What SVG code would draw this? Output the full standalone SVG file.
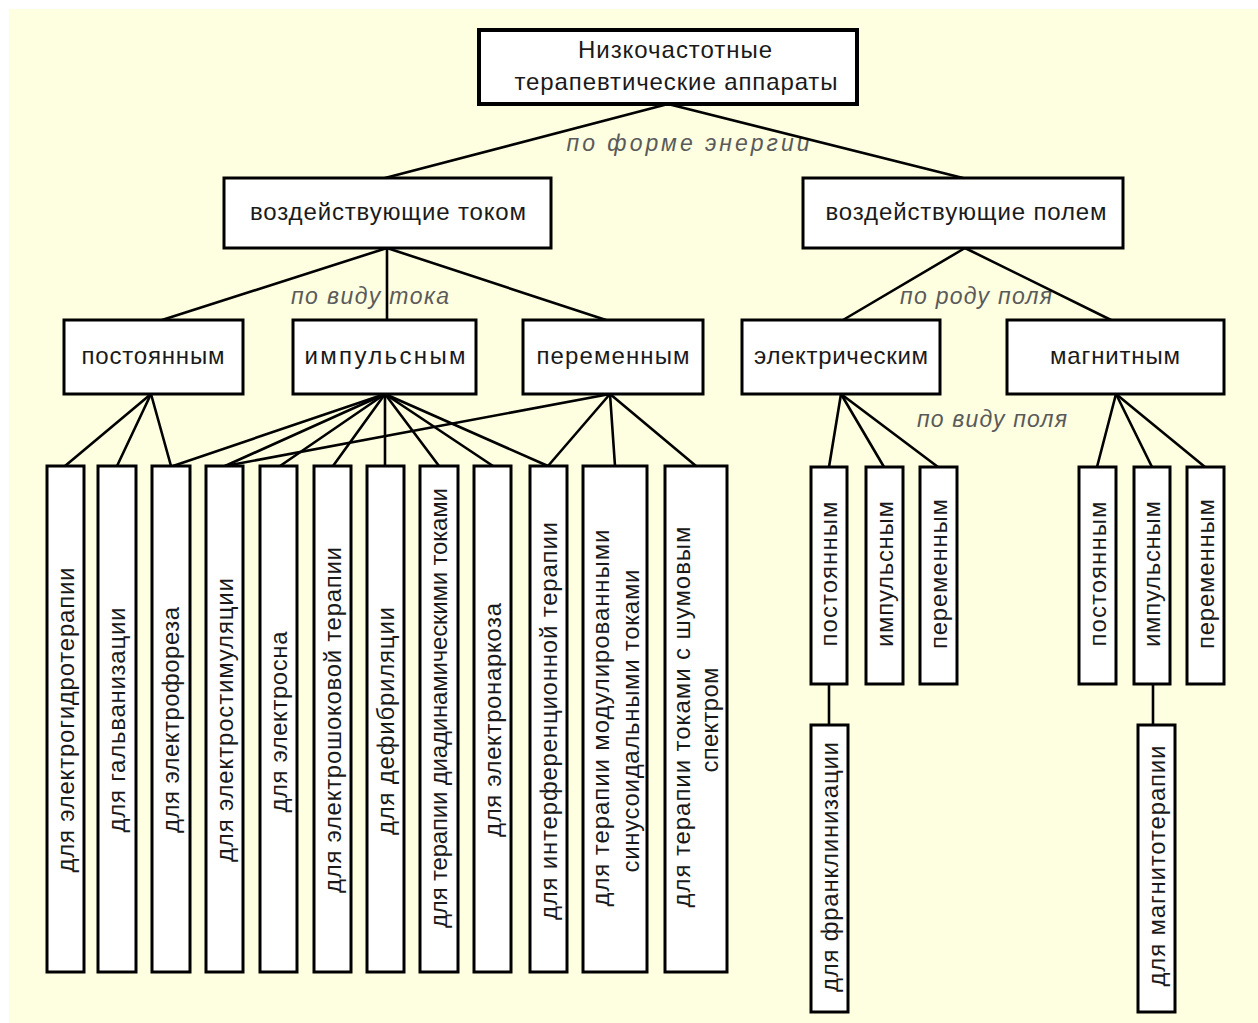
<svg xmlns="http://www.w3.org/2000/svg" width="1258" height="1023" viewBox="0 0 1258 1023">
  <style>
    .box { fill: #ffffff; stroke: #000000; stroke-width: 3; }
    .t { font-family: "Liberation Sans", Arial, sans-serif; font-size: 24px; fill: #1a1a1a; text-anchor: middle; }
    .lbl { font-family: "Liberation Sans", Arial, sans-serif; font-size: 23px; font-style: italic; fill: #5a5a5a; text-anchor: middle; }
    .edge { stroke: #000000; stroke-width: 2.6; fill: none; stroke-linecap: round; }
  </style>

  <!-- page background -->
  <rect x="0" y="0" width="1258" height="1023" fill="#ffffff"/>
  <rect x="9" y="9" width="1249" height="1014" fill="#fefee0"/>

  <!-- classification criteria -->
  <g id="criteria">
    <text class="lbl" x="688" y="151" textLength="243" lengthAdjust="spacing">по форме энергии</text>
    <text class="lbl" x="370" y="304" textLength="158" lengthAdjust="spacing">по виду тока</text>
    <text class="lbl" x="976" y="304" textLength="152" lengthAdjust="spacing">по роду поля</text>
    <text class="lbl" x="992" y="427" textLength="150" lengthAdjust="spacing">по виду поля</text>
  </g>

  <!-- connectors -->
  <g id="connectors">
    <line class="edge" x1="668" y1="104" x2="385" y2="178"/>
    <line class="edge" x1="668" y1="104" x2="963" y2="178"/>

    <line class="edge" x1="387" y1="248" x2="162" y2="320"/>
    <line class="edge" x1="387" y1="248" x2="387" y2="320"/>
    <line class="edge" x1="387" y1="248" x2="606" y2="320"/>

    <line class="edge" x1="965" y1="248" x2="843" y2="320"/>
    <line class="edge" x1="965" y1="248" x2="1111" y2="320"/>

    <!-- постоянным -->
    <line class="edge" x1="151" y1="394" x2="65" y2="466"/>
    <line class="edge" x1="151" y1="394" x2="117" y2="466"/>
    <line class="edge" x1="151" y1="394" x2="171" y2="466"/>
    <!-- импульсным -->
    <line class="edge" x1="385" y1="394" x2="173" y2="466"/>
    <line class="edge" x1="385" y1="394" x2="225" y2="466"/>
    <line class="edge" x1="385" y1="394" x2="280" y2="466"/>
    <line class="edge" x1="385" y1="394" x2="333" y2="466"/>
    <line class="edge" x1="385" y1="394" x2="385" y2="466"/>
    <line class="edge" x1="385" y1="394" x2="439" y2="466"/>
    <line class="edge" x1="385" y1="394" x2="493" y2="466"/>
    <line class="edge" x1="385" y1="394" x2="548" y2="466"/>
    <!-- переменным -->
    <line class="edge" x1="610" y1="394" x2="225" y2="466"/>
    <line class="edge" x1="610" y1="394" x2="548" y2="466"/>
    <line class="edge" x1="610" y1="394" x2="615" y2="466"/>
    <line class="edge" x1="610" y1="394" x2="696" y2="466"/>

    <!-- электрическим -->
    <line class="edge" x1="841" y1="394" x2="829" y2="467"/>
    <line class="edge" x1="841" y1="394" x2="884" y2="467"/>
    <line class="edge" x1="841" y1="394" x2="938" y2="467"/>
    <!-- магнитным -->
    <line class="edge" x1="1116" y1="394" x2="1097" y2="467"/>
    <line class="edge" x1="1116" y1="394" x2="1152" y2="467"/>
    <line class="edge" x1="1116" y1="394" x2="1205" y2="467"/>

    <line class="edge" x1="829" y1="684" x2="829" y2="725"/>
    <line class="edge" x1="1153" y1="684" x2="1153" y2="725"/>
  </g>

  <!-- root -->
  <g id="root">
    <rect class="box" x="479" y="30" width="378" height="74" style="stroke-width:4"/>
    <text class="t" x="675" y="58" textLength="194" lengthAdjust="spacing">Низкочастотные</text>
    <text class="t" x="676" y="90" textLength="323" lengthAdjust="spacing">терапевтические аппараты</text>
  </g>

  <!-- by form of energy -->
  <g id="current">
    <rect class="box" x="224" y="178" width="327" height="70"/>
    <text class="t" x="388" y="220" textLength="276" lengthAdjust="spacing">воздействующие током</text>
  </g>
  <g id="field">
    <rect class="box" x="803" y="178" width="320" height="70"/>
    <text class="t" x="966" y="220" textLength="281" lengthAdjust="spacing">воздействующие полем</text>
  </g>

  <!-- by kind of current -->
  <g id="current-direct">
    <rect class="box" x="64" y="320" width="179" height="74"/>
    <text class="t" x="153" y="364" textLength="143" lengthAdjust="spacing">постоянным</text>
  </g>
  <g id="current-pulse">
    <rect class="box" x="293" y="320" width="183" height="74"/>
    <text class="t" x="385" y="364" textLength="161" lengthAdjust="spacing">импульсным</text>
  </g>
  <g id="current-alternating">
    <rect class="box" x="523" y="320" width="180" height="74"/>
    <text class="t" x="613" y="364" textLength="153" lengthAdjust="spacing">переменным</text>
  </g>

  <!-- by kind of field -->
  <g id="field-electric">
    <rect class="box" x="742" y="320" width="198" height="74"/>
    <text class="t" x="841" y="364" textLength="174" lengthAdjust="spacing">электрическим</text>
  </g>
  <g id="field-magnetic">
    <rect class="box" x="1007" y="320" width="217" height="74"/>
    <text class="t" x="1115" y="364" textLength="130" lengthAdjust="spacing">магнитным</text>
  </g>

  <!-- current devices -->
  <g id="dev-electrohydro">
    <rect class="box" x="47" y="466" width="37" height="506"/>
    <text class="t" transform="translate(65.5,720) rotate(-90)" x="0" y="8" textLength="305" lengthAdjust="spacing">для электрогидротерапии</text>
  </g>
  <g id="dev-galvanization">
    <rect class="box" x="98" y="466" width="38" height="506"/>
    <text class="t" transform="translate(117,720) rotate(-90)" x="0" y="8" textLength="225" lengthAdjust="spacing">для гальванизации</text>
  </g>
  <g id="dev-electrophoresis">
    <rect class="box" x="152" y="466" width="38" height="506"/>
    <text class="t" transform="translate(171,720) rotate(-90)" x="0" y="8" textLength="226" lengthAdjust="spacing">для электрофореза</text>
  </g>
  <g id="dev-electrostimulation">
    <rect class="box" x="206" y="466" width="37" height="506"/>
    <text class="t" transform="translate(224.5,720) rotate(-90)" x="0" y="8" textLength="284" lengthAdjust="spacing">для электростимуляции</text>
  </g>
  <g id="dev-electrosleep">
    <rect class="box" x="260" y="466" width="37" height="506"/>
    <text class="t" transform="translate(278.5,722) rotate(-90)" x="0" y="8" textLength="181" lengthAdjust="spacing">для электросна</text>
  </g>
  <g id="dev-electroshock">
    <rect class="box" x="314" y="466" width="37" height="506"/>
    <text class="t" transform="translate(332.5,720) rotate(-90)" x="0" y="8" textLength="346" lengthAdjust="spacing">для электрошоковой терапии</text>
  </g>
  <g id="dev-defibrillation">
    <rect class="box" x="367" y="466" width="37" height="506"/>
    <text class="t" transform="translate(385.5,721) rotate(-90)" x="0" y="8" textLength="228" lengthAdjust="spacing">для дефибриляции</text>
  </g>
  <g id="dev-diadynamic">
    <rect class="box" x="420" y="466" width="38" height="506"/>
    <text class="t" transform="translate(439,708) rotate(-90)" x="0" y="8" textLength="440" lengthAdjust="spacing">для терапии диадинамическими токами</text>
  </g>
  <g id="dev-electronarcosis">
    <rect class="box" x="474" y="466" width="37" height="506"/>
    <text class="t" transform="translate(492.5,720) rotate(-90)" x="0" y="8" textLength="234" lengthAdjust="spacing">для электронаркоза</text>
  </g>
  <g id="dev-interference">
    <rect class="box" x="530" y="466" width="37" height="506"/>
    <text class="t" transform="translate(548.5,721) rotate(-90)" x="0" y="8" textLength="398" lengthAdjust="spacing">для интерференционной терапии</text>
  </g>
  <g id="dev-sinusoidal">
    <rect class="box" x="583" y="466" width="64" height="506"/>
    <text class="t" transform="translate(601,718) rotate(-90)" x="0" y="8" textLength="377" lengthAdjust="spacing">для терапии модулированными</text>
    <text class="t" transform="translate(631,721) rotate(-90)" x="0" y="8" textLength="303" lengthAdjust="spacing">синусоидальными токами</text>
  </g>
  <g id="dev-noise">
    <rect class="box" x="665" y="466" width="62" height="506"/>
    <text class="t" transform="translate(682,717) rotate(-90)" x="0" y="8" textLength="381" lengthAdjust="spacing">для терапии токами с шумовым</text>
    <text class="t" transform="translate(710,720) rotate(-90)" x="0" y="8" textLength="105" lengthAdjust="spacing">спектром</text>
  </g>

  <!-- electric field devices -->
  <g id="el-direct">
    <rect class="box" x="811" y="467" width="36" height="217"/>
    <text class="t" transform="translate(829,574) rotate(-90)" x="0" y="8" textLength="145" lengthAdjust="spacing">постоянным</text>
  </g>
  <g id="el-pulse">
    <rect class="box" x="866" y="467" width="37" height="217"/>
    <text class="t" transform="translate(884.5,574) rotate(-90)" x="0" y="8" textLength="146" lengthAdjust="spacing">импульсным</text>
  </g>
  <g id="el-alternating">
    <rect class="box" x="920" y="467" width="37" height="217"/>
    <text class="t" transform="translate(938.5,574) rotate(-90)" x="0" y="8" textLength="150" lengthAdjust="spacing">переменным</text>
  </g>
  <g id="dev-franklinization">
    <rect class="box" x="811" y="725" width="37" height="287"/>
    <text class="t" transform="translate(829.5,867) rotate(-90)" x="0" y="8" textLength="250" lengthAdjust="spacing">для франклинизации</text>
  </g>

  <!-- magnetic field devices -->
  <g id="mag-direct">
    <rect class="box" x="1079" y="467" width="37" height="217"/>
    <text class="t" transform="translate(1097.5,574) rotate(-90)" x="0" y="8" textLength="145" lengthAdjust="spacing">постоянным</text>
  </g>
  <g id="mag-pulse">
    <rect class="box" x="1134" y="467" width="36" height="217"/>
    <text class="t" transform="translate(1152,574) rotate(-90)" x="0" y="8" textLength="146" lengthAdjust="spacing">импульсным</text>
  </g>
  <g id="mag-alternating">
    <rect class="box" x="1187" y="467" width="37" height="217"/>
    <text class="t" transform="translate(1205.5,574) rotate(-90)" x="0" y="8" textLength="150" lengthAdjust="spacing">переменным</text>
  </g>
  <g id="dev-magnetotherapy">
    <rect class="box" x="1138" y="725" width="37" height="287"/>
    <text class="t" transform="translate(1156.5,866) rotate(-90)" x="0" y="8" textLength="241" lengthAdjust="spacing">для магнитотерапии</text>
  </g>
</svg>
